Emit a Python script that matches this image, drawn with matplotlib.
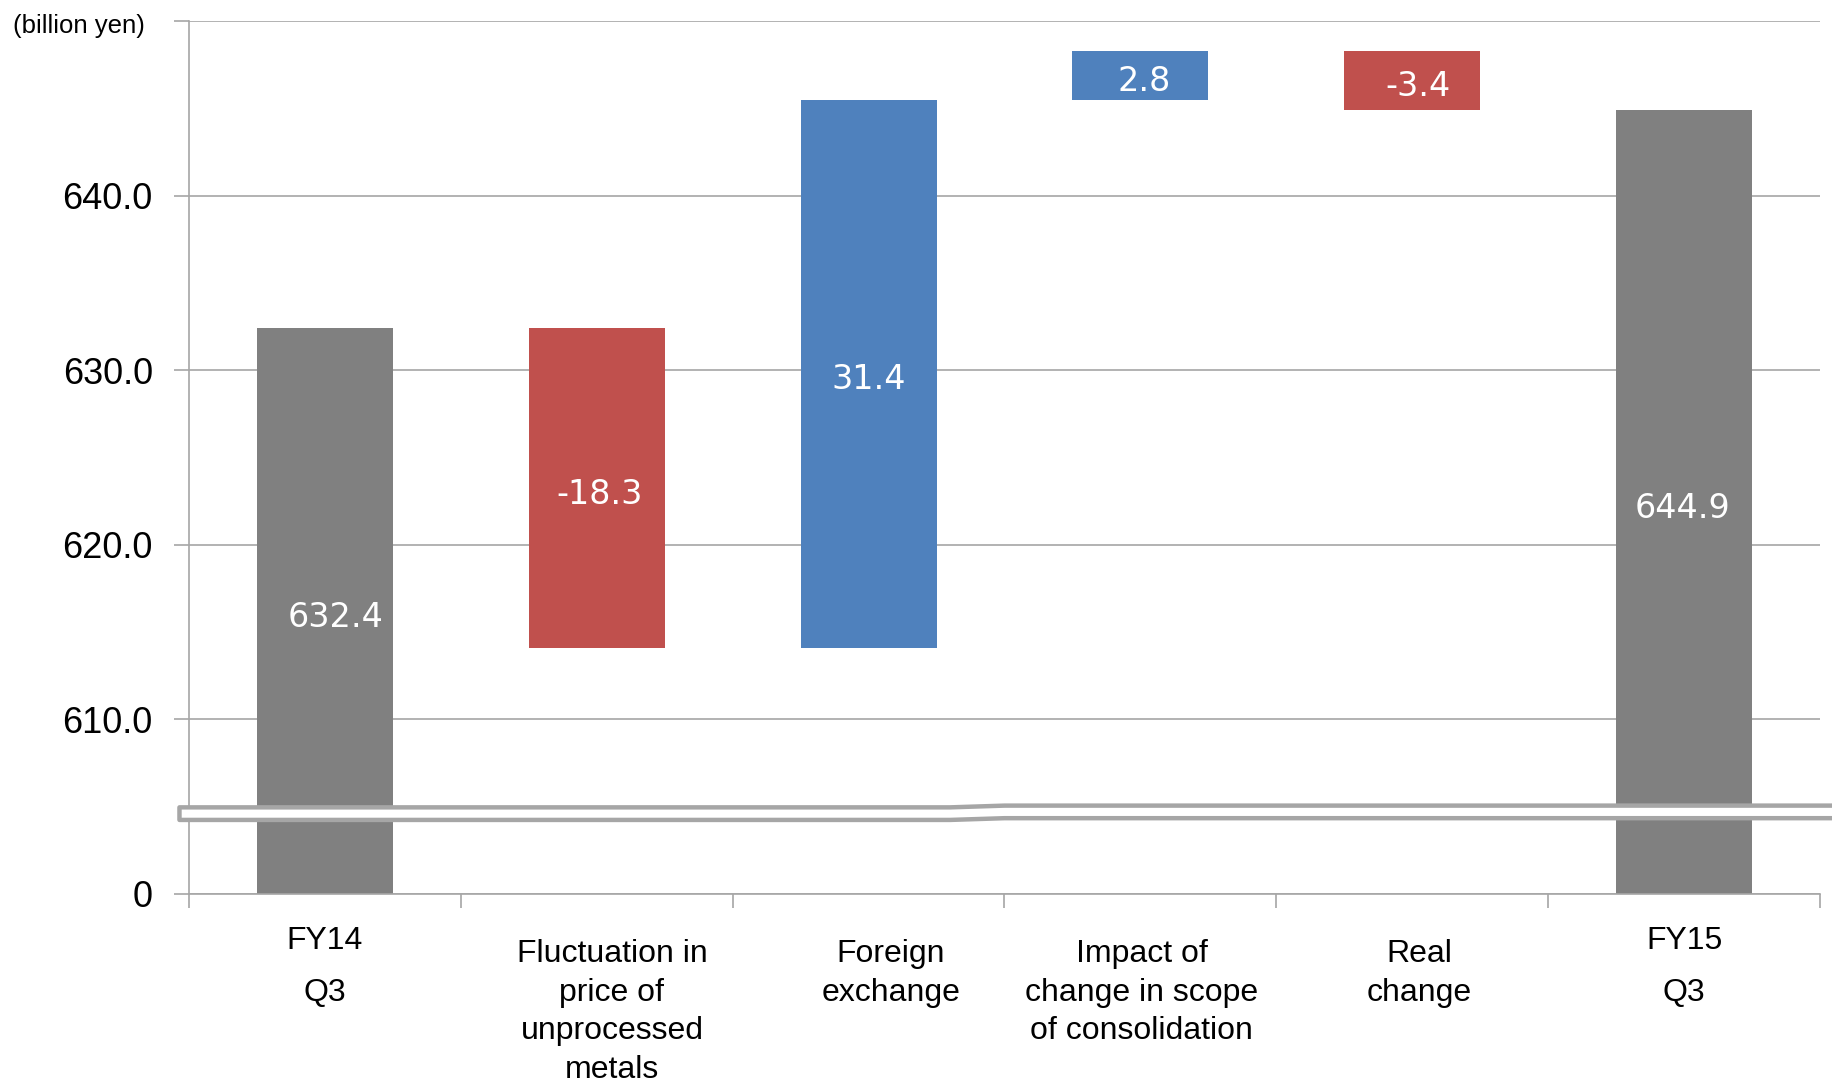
# %% libraries
import numpy as np
import matplotlib
matplotlib.use('Agg')
import matplotlib.pyplot as plt
from matplotlib.patches import Polygon

# %% data (billion yen)
categories = ['FY14\nQ3',
              'Fluctuation in\nprice of\nunprocessed\nmetals',
              'Foreign\nexchange',
              'Impact of\nchange in scope\nof consolidation',
              'Real\nchange',
              'FY15\nQ3']
start_value = 632.4
changes = [-18.3, 31.4, 2.8, -3.4]
end_value = 644.9
value_labels = ['632.4', '-18.3', '31.4', '2.8', '-3.4', '644.9']

y_ticks = [600, 610, 620, 630, 640, 650]
y_tick_labels = ['0', '610.0', '620.0', '630.0', '640.0', '']

# %% arrange data
axis_floor = 600.0          # the broken axis starts here, shown as "0"
levels = np.cumsum([start_value] + changes)
bottoms, heights, colors = [axis_floor], [start_value - axis_floor], ['#808080']
for i, ch in enumerate(changes):
    lo = min(levels[i], levels[i + 1])
    bottoms.append(lo)
    heights.append(abs(ch))
    colors.append('#4F81BD' if ch > 0 else '#C0504D')
bottoms.append(axis_floor)
heights.append(end_value - axis_floor)
colors.append('#808080')
pos = np.arange(len(categories))

# %% figure framework
fig = plt.figure(figsize=(18.33, 10.79), dpi=100)
ax = fig.add_axes([0.1031, 0.1715, 0.8898, 0.809])

grid_col = '#A6A6A6'

# plot data
ax.bar(pos, heights, bottom=bottoms, width=0.5, color=colors, zorder=2)

# value labels in the middle of each bar (slight nudges as in the original)
nudge_x = [8, 2, 0, 3, 4, -1]
for x, b, h, lab, dx in zip(pos, bottoms, heights, value_labels, nudge_x):
    ax.annotate(lab, (x, b + h / 2), xytext=(dx, -4.5), textcoords='offset points',
                ha='center', va='center', color='white',
                fontsize=24, family='DejaVu Sans', zorder=3)

# axis properties
ax.set_xlim(-0.5, len(categories) - 0.5)
ax.set_ylim(axis_floor, 650)
ax.set_yticks(y_ticks)
ax.set_yticklabels(y_tick_labels, fontsize=26, family='Liberation Sans')
ax.tick_params(axis='y', length=11, width=1.2, color=grid_col, pad=15)
ax.set_xticks(np.arange(-0.5, len(categories), 1))
ax.set_xticklabels([])
ax.tick_params(axis='x', length=10, width=1.2, color=grid_col)

# category labels below the axis
label_shift = [0, 0.056, 0.082, 0.004, 0.026, 0]
for x, lab, sh in zip(pos, categories, label_shift):
    fy = lab.startswith('FY')
    ax.text(x + sh, -0.037 if fy else -0.052, lab, transform=ax.get_xaxis_transform(),
            ha='center', va='top', fontsize=23, family='Liberation Sans',
            linespacing=1.95 if fy else 1.37, clip_on=False)

# spines
ax.spines['right'].set_visible(False)
ax.spines['top'].set_visible(False)
ax.spines['left'].set_color(grid_col)
ax.spines['bottom'].set_color(grid_col)
ax.spines['left'].set_linewidth(1.2)
ax.spines['bottom'].set_linewidth(1.2)

# grid
ax.grid(True, axis='y', color=grid_col, lw=1.2, zorder=0)
ax.set_axisbelow(True)

# axis break band
c, h, step = 604.6, 0.36, 0.1
xl, xs, xr = -0.535, 2.3, 5.6
band = Polygon([(xl, c + h), (xs, c + h), (xs + 0.2, c + h + step), (xr, c + h + step),
                (xr, c - h + step), (xs + 0.2, c - h + step), (xs, c - h), (xl, c - h)],
               closed=True, facecolor='white', edgecolor=grid_col, lw=3.2,
               joinstyle='round', clip_on=False, zorder=4)
ax.add_patch(band)

# unit
fig.text(0.007, 1 - 26 / 1079, '(billion yen)', ha='left', va='center',
         fontsize=18.5, family='Liberation Sans')

# save plot to file
plt.savefig('out.png', dpi=100)
